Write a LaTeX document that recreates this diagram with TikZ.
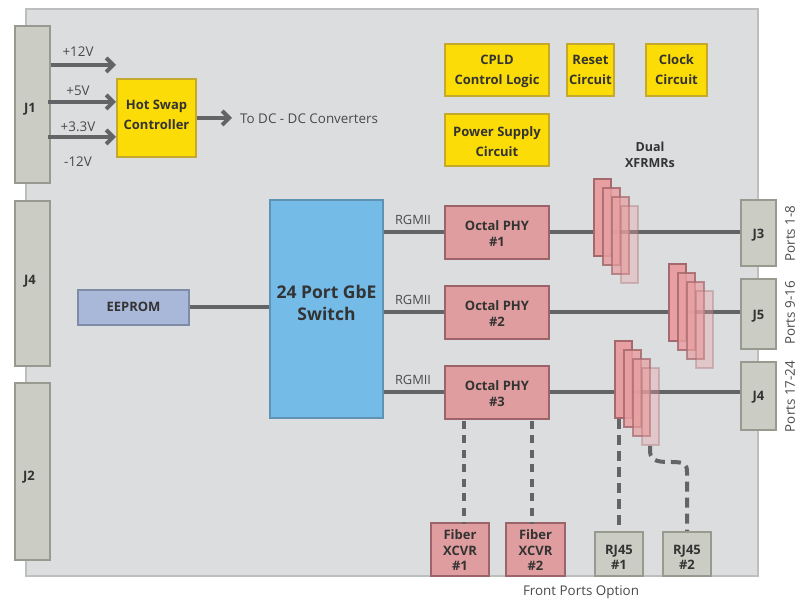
\documentclass[tikz,border=0pt]{standalone}
\usepackage{fontspec}
\setmainfont{Open Sans}
\usepackage{tikz}
\usetikzlibrary{arrows.meta}

\definecolor{boardfill}{HTML}{DCDDDF}
\definecolor{boardline}{HTML}{BDBEBE}
\definecolor{wirecol}{HTML}{636466}
\definecolor{txtcol}{HTML}{4A4A4C}
\definecolor{connfill}{HTML}{CBCDC4}
\definecolor{connline}{HTML}{989A90}
\definecolor{yelfill}{HTML}{FCDC06}
\definecolor{yelline}{HTML}{C4A92E}
\definecolor{redfill}{HTML}{E09D9F}
\definecolor{redline}{HTML}{9A6468}
\definecolor{xffill}{HTML}{E89FA1}
\definecolor{xfline}{HTML}{A5686C}
\definecolor{bluefill}{HTML}{74BBE8}
\definecolor{blueline}{HTML}{5E93B4}
\definecolor{eepfill}{HTML}{A9B8D9}
\definecolor{eepline}{HTML}{7F8CA8}

% move node text down / up inside its box
\newcommand{\tdown}[1]{\rule{0pt}{#1pt}}
\newcommand{\tup}[1]{\rule[-#1pt]{0pt}{0pt}}

\tikzset{
    box/.style={draw, line width=2pt, inner sep=0pt, align=center, text=black!80,
        font=\fontsize{13}{20}\selectfont\bfseries},
    conn/.style={box, fill=connfill, draw=connline},
    yel/.style={box, fill=yelfill, draw=yelline},
    red/.style={box, fill=redfill, draw=redline},
    xfmr/.style={draw=xfline, fill=xffill, line width=2pt, inner sep=0pt,
        minimum width=17pt, minimum height=77pt},
    wire/.style={draw=wirecol, line width=4pt},
    power/.style={wire, -{Straight Barb[length=7pt, width=14pt]}},
    dash1/.style={wire, dash pattern=on 8pt off 6.5pt},
    dash2/.style={wire, dash pattern=on 10pt off 6pt},
    lbl/.style={text=txtcol, inner sep=0pt, font=\fontsize{13.4}{16}\selectfont}
}

\begin{document}
\begin{tikzpicture}[x=1pt, y=-1pt]
    \useasboundingbox (0,0) rectangle (804,601);

    % Board
    \draw[draw=boardline, fill=boardfill, line width=2pt] (26,9) rectangle (758,576);

    % Backplane connectors
    \node[conn, minimum width=35pt, minimum height=157pt] (jone) at (32,105) {\tdown{18}J1\hspace{4pt}};
    \node[conn, minimum width=35pt, minimum height=165pt] (jfour) at (32,283.5) {J4\hspace{4pt}\tup{8}};
    \node[conn, minimum width=35pt, minimum height=177pt] (jtwo) at (32,471.5) {\tdown{20}J2\hspace{6pt}};

    % Power
    \node[yel, minimum width=79pt, minimum height=78pt] (hotswap) at (156.5,118) {Hot Swap\\Controller\tup{7}};
    \coordinate (twelve) at (116,65);
    \draw[power] (twelve -| jone.east) -- (twelve);
    \draw[power] (hotswap.west |- 0,102) ++(-68,0) -- (hotswap.west |- 0,102);
    \draw[power] (hotswap.west |- 0,137) ++(-68,0) -- (hotswap.west |- 0,137);
    \coordinate (dcdc) at (232,118);
    \draw[power] (hotswap.east) -- (dcdc);
    \node[lbl] (vtwelve) at (78,52) {+12V};
    \node[lbl] (vfive) at (78,91) {+5V};
    \node[lbl] (vthree) at (78,127) {+3.3V};
    \node[lbl] (vneg) at (78,162) {-12V};
    \node[lbl, anchor=west] (dclabel) at (240,119) {To DC - DC Converters};

    % Logic blocks
    \node[yel, minimum width=104pt, minimum height=52pt] (cpld) at (497,70) {\tdown{12}CPLD\\Control Logic};
    \node[yel, minimum width=47pt, minimum height=52pt] (reset) at (590.5,70) {Reset\\Circuit};
    \node[yel, minimum width=61pt, minimum height=52pt] (clock) at (676.5,70) {Clock\\Circuit};
    \node[yel, minimum width=104pt, minimum height=52pt] (psu) at (497,140) {\tdown{14}Power Supply\\Circuit};

    % Switch and EEPROM
    \node[box, fill=bluefill, draw=blueline, minimum width=113pt, minimum height=218pt,
        font=\fontsize{17.5}{22}\selectfont\bfseries] (switch) at (326.5,309) {24 Port GbE\\Switch\tup{13}};
    \node[box, fill=eepfill, draw=eepline, minimum width=111pt, minimum height=35pt] (eeprom) at (133.5,307.5) {EEPROM\tup{2}};
    \draw[wire] (eeprom.east) -- (switch.west |- eeprom.east);

    % PHYs
    \tikzset{phy/.style={red, minimum width=104pt, minimum height=53pt, font=\fontsize{13}{16}\selectfont\bfseries}}
    \node[phy] (phyone) at (497,232.5) {\tdown{12}Octal PHY\\\#1};
    \node[phy] (phytwo) at (497,312.5) {\tdown{12}Octal PHY\\\#2};
    \node[phy] (phythree) at (497,392.5) {\tdown{12}Octal PHY\\\#3};

    % Front connectors
    \node[conn, minimum width=35pt, minimum height=66pt] (jthree) at (758.5,233) {\tdown{14}J3};
    \node[conn, minimum width=35pt, minimum height=70pt] (jfive) at (758.5,314) {\tdown{14}J5};
    \node[conn, minimum width=35pt, minimum height=68pt] (jfourb) at (758.5,396) {\tdown{12}J4};

    % Wires
    \foreach \a/\b in {phyone/jthree, phytwo/jfive, phythree/jfourb} {
        \draw[wire] (switch.east |- \a.west) -- (\a.west);
        \draw[wire] (\a.east) -- (\a.east -| \b.west);
    }
    \node[lbl, font=\fontsize{12.8}{16}\selectfont] (rgone) at (413,220) {RGMII};
    \node[lbl, font=\fontsize{12.8}{16}\selectfont] (rgtwo) at (413,300) {RGMII};
    \node[lbl, font=\fontsize{12.8}{16}\selectfont] (rgthree) at (413,380) {RGMII};

    % XFMR stacks
    \foreach \n/\x/\y in {a/602/218, b/677/302.5, c/623/379.5} {
        \node[xfmr] (\n1) at (\x,\y) {};
        \node[xfmr, opacity=0.85] (\n2) at (\x+9,\y+9) {};
        \node[xfmr, opacity=0.7] (\n3) at (\x+18,\y+18) {};
        \node[xfmr, opacity=0.35] (\n4) at (\x+27,\y+27) {};
    }
    \node[box, font=\fontsize{12.5}{16}\selectfont\bfseries, draw=none] (dual) at (650,155) {Dual\\XFRMRs};

    % Front options
    \tikzset{xcvr/.style={red, minimum height=53pt, font=\fontsize{13}{15.5}\selectfont\bfseries},
        rj/.style={conn, minimum width=48pt, minimum height=44pt, font=\fontsize{13}{16}\selectfont\bfseries}}
    \node[xcvr, minimum width=58pt] (fiberone) at (460,549.5) {\tdown{12}Fiber\\XCVR\\\#1};
    \node[xcvr, minimum width=59pt] (fibertwo) at (535.5,549.5) {\tdown{12}Fiber\\XCVR\\\#2};
    \node[rj] (rjone) at (619,554) {\tdown{16}RJ45\\\#1};
    \node[rj] (rjtwo) at (687,554) {\tdown{16}RJ45\\\#2\hspace{4pt}};

    \draw[dash1] (phythree.south -| fiberone.north) ++(3.5,1) -- ++(0,103);
    \draw[dash1] (phythree.south -| fibertwo.north) ++(-3.5,1) -- ++(0,103);
    \draw[dash2] (c1.south -| rjone.north) -- (rjone.north);
    \draw[dash2] (c4.south) -- ++(0,6) .. controls (651,462) and (660,462) .. (672,462)
        .. controls (684,462) and (687,464) .. (687,472) -- (rjtwo.north);

    % Side labels
    \node[lbl, rotate=90] (portsa) at (790,233.5) {Ports 1-8};
    \node[lbl, rotate=90] (portsb) at (790,313) {Ports 9-16};
    \node[lbl, rotate=90] (portsc) at (790,396.5) {Ports 17-24};
    \node[lbl] (front) at (581,592) {Front Ports Option};
\end{tikzpicture}
\end{document}
